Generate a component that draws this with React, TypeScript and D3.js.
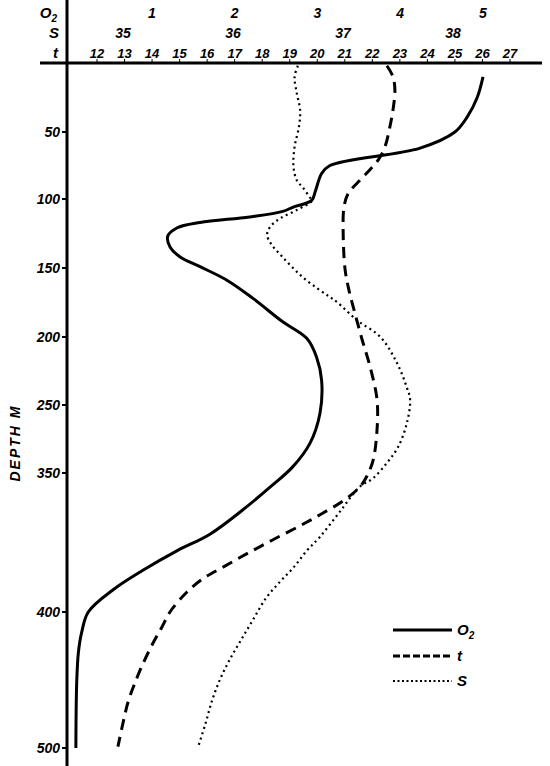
import * as d3 from 'd3';
import React, { useEffect, useRef } from 'react';

// top scales
const o2Ticks = [1, 2, 3, 4, 5];
const salTicks = [35, 36, 37, 38];
const tempTicks = [12, 13, 14, 15, 16, 17, 18, 19, 20, 21, 22, 23, 24, 25, 26, 27];
// depth axis is not uniform in the original, labels kept as printed
const depthTicks = [50, 100, 150, 200, 250, 350, 400, 500];

// oxygen (solid)
const o2Depth = [10, 25, 39, 50, 62, 75, 81, 95, 101, 106, 109, 113, 117, 121, 127, 135, 142, 149, 159, 172, 189, 201, 215, 232, 262, 306, 341, 355, 362, 372, 378, 385, 392, 400, 415, 430, 452, 500];
const o2Values = [5.0, 4.93, 4.81, 4.66, 4.24, 3.15, 3.05, 2.97, 2.93, 2.7, 2.58, 2.18, 1.58, 1.3, 1.19, 1.22, 1.34, 1.58, 1.91, 2.22, 2.58, 2.87, 2.99, 3.05, 3.03, 2.91, 2.7, 2.43, 2.15, 1.7, 1.3, 0.89, 0.53, 0.23, 0.15, 0.11, 0.09, 0.08];

// temperature (dashed)
const tDepth = [2, 10, 20, 34, 46, 61, 71, 78, 86, 96, 106, 123, 151, 166, 183, 202, 222, 246, 287, 331, 351, 355, 360, 365, 369, 374, 379, 384, 388, 393, 400, 411, 423, 438, 452, 466, 482, 499];
const tValues = [22.53, 22.75, 22.82, 22.75, 22.64, 22.46, 22.21, 21.92, 21.55, 21.12, 20.97, 20.94, 21.01, 21.15, 21.37, 21.63, 21.92, 22.17, 22.17, 22.03, 21.81, 21.55, 20.94, 20.1, 19.37, 18.39, 17.45, 16.55, 15.85, 15.25, 14.65, 14.36, 14.03, 13.67, 13.38, 13.13, 12.94, 12.76];

// salinity (dotted)
const sDepth = [2, 10, 22, 34, 46, 61, 76, 86, 92, 99, 101, 108, 114, 120, 126, 133, 142, 155, 165, 171, 175, 188, 200, 219, 237, 246, 277, 312, 335, 352, 355, 364, 373, 378, 384, 389, 395, 406, 421, 435, 450, 465, 482, 500];
const sValues = [36.59, 36.56, 36.58, 36.61, 36.6, 36.56, 36.55, 36.58, 36.64, 36.7, 36.72, 36.58, 36.43, 36.34, 36.31, 36.35, 36.45, 36.61, 36.77, 36.88, 36.95, 37.13, 37.34, 37.49, 37.58, 37.61, 37.58, 37.5, 37.4, 37.27, 37.15, 36.97, 36.79, 36.67, 36.55, 36.43, 36.3, 36.18, 36.07, 35.97, 35.88, 35.81, 35.75, 35.68];

const legendItems = ['O2', 't', 'S'];

const FONT = '"Liberation Sans", Arial, sans-serif';

export default function App() {
  const ref = useRef<SVGSVGElement>(null);

  useEffect(() => {
    const svg = d3.select(ref.current);
    svg.selectAll('*').remove();

    const axisY = 63;
    const axisX = 67;

    const xO2 = d3.scaleLinear().domain([1, 5]).range([152, 483]);
    const xS = d3.scaleLinear().domain([35, 38]).range([123, 453]);
    const xT = d3.scaleLinear().domain([12, 27]).range([97, 510]);
    const y = d3.scaleLinear()
      .domain([0, 50, 100, 150, 200, 250, 350, 400, 500])
      .range([axisY, 132, 199, 268, 337, 405, 473, 612, 748]);

    // axes lines
    svg.append('line')
      .attr('x1', 40).attr('x2', 542)
      .attr('y1', axisY).attr('y2', axisY)
      .attr('stroke', '#000').attr('stroke-width', 3);
    svg.append('line')
      .attr('x1', axisX).attr('x2', axisX)
      .attr('y1', 0).attr('y2', 766)
      .attr('stroke', '#000').attr('stroke-width', 3);

    const label = (sel: any, size = 14) => sel
      .attr('font-family', FONT)
      .attr('font-weight', 'bold')
      .attr('font-style', 'italic')
      .attr('font-size', size)
      .attr('fill', '#000');

    // top tick labels
    const top = svg.append('g');
    top.selectAll('text.o2').data(o2Ticks).enter().append('text')
      .attr('class', 'o2')
      .attr('x', (d) => xO2(d)).attr('y', 18)
      .attr('text-anchor', 'middle')
      .call(label)
      .text((d) => d);
    top.selectAll('text.s').data(salTicks).enter().append('text')
      .attr('class', 's')
      .attr('x', (d) => xS(d)).attr('y', 38)
      .attr('text-anchor', 'middle')
      .call(label)
      .text((d) => d);
    top.selectAll('text.t').data(tempTicks).enter().append('text')
      .attr('class', 't')
      .attr('x', (d) => xT(d)).attr('y', 58)
      .attr('text-anchor', 'middle')
      .call(label, 13)
      .text((d) => d);
    top.selectAll('line.tk').data(tempTicks).enter().append('line')
      .attr('class', 'tk')
      .attr('x1', (d) => xT(d)).attr('x2', (d) => xT(d))
      .attr('y1', axisY - 4).attr('y2', axisY)
      .attr('stroke', '#000').attr('stroke-width', 1);

    // row names
    const o2Name = top.append('text').attr('x', 57).attr('y', 18)
      .attr('text-anchor', 'end').call(label, 15);
    o2Name.append('tspan').text('O');
    o2Name.append('tspan').attr('font-size', 10).attr('dy', 4).text('2');
    top.append('text').attr('x', 59).attr('y', 38)
      .attr('text-anchor', 'end').call(label, 15).text('S');
    top.append('text').attr('x', 58).attr('y', 58)
      .attr('text-anchor', 'end').call(label, 15).text('t');

    // depth axis
    const left = svg.append('g');
    left.selectAll('line').data(depthTicks).enter().append('line')
      .attr('x1', axisX - 5).attr('x2', axisX)
      .attr('y1', (d) => y(d)).attr('y2', (d) => y(d))
      .attr('stroke', '#000').attr('stroke-width', 2);
    left.selectAll('text').data(depthTicks).enter().append('text')
      .attr('x', axisX - 7).attr('y', (d) => y(d) + 5)
      .attr('text-anchor', 'end')
      .call(label)
      .text((d) => d);
    svg.append('text')
      .attr('transform', 'translate(20,443) rotate(-90)')
      .attr('text-anchor', 'middle')
      .attr('letter-spacing', 2)
      .call(label, 14)
      .text('DEPTH  M');

    // profiles
    const line = d3.line<[number, number]>()
      .x((d) => d[0]).y((d) => d[1])
      .curve(d3.curveCatmullRom.alpha(0.5));

    const o2Pts = o2Depth.map((d, i) => [xO2(o2Values[i]), y(d)] as [number, number]);
    const tPts = tDepth.map((d, i) => [xT(tValues[i]), y(d)] as [number, number]);
    const sPts = sDepth.map((d, i) => [xS(sValues[i]), y(d)] as [number, number]);

    svg.append('path').attr('d', line(sPts))
      .attr('fill', 'none').attr('stroke', '#000')
      .attr('stroke-width', 2.2).attr('stroke-dasharray', '2,3.5');
    svg.append('path').attr('d', line(tPts))
      .attr('fill', 'none').attr('stroke', '#000')
      .attr('stroke-width', 3).attr('stroke-dasharray', '11,7');
    svg.append('path').attr('d', line(o2Pts))
      .attr('fill', 'none').attr('stroke', '#000')
      .attr('stroke-width', 3).attr('stroke-linejoin', 'round');

    // legend
    const dashes = ['none', '7,3', '2,2.5'];
    const widths = [3, 3, 2];
    const ly = [630, 656, 681];
    const legend = svg.append('g');
    legendItems.forEach((name, i) => {
      legend.append('line')
        .attr('x1', 393).attr('x2', 452)
        .attr('y1', ly[i]).attr('y2', ly[i])
        .attr('stroke', '#000').attr('stroke-width', widths[i])
        .attr('stroke-dasharray', dashes[i]);
      const txt = legend.append('text').attr('x', 457).attr('y', ly[i] + 5).call(label, 15);
      if (name === 'O2') {
        txt.append('tspan').text('O');
        txt.append('tspan').attr('font-size', 10).attr('dy', 4).text('2');
      } else {
        txt.text(name);
      }
    });
  }, []);

  return (
    <svg ref={ref} width={550} height={766}
      style={{ position: 'absolute', left: 0, top: 0, background: '#fff' }} />
  );
}
